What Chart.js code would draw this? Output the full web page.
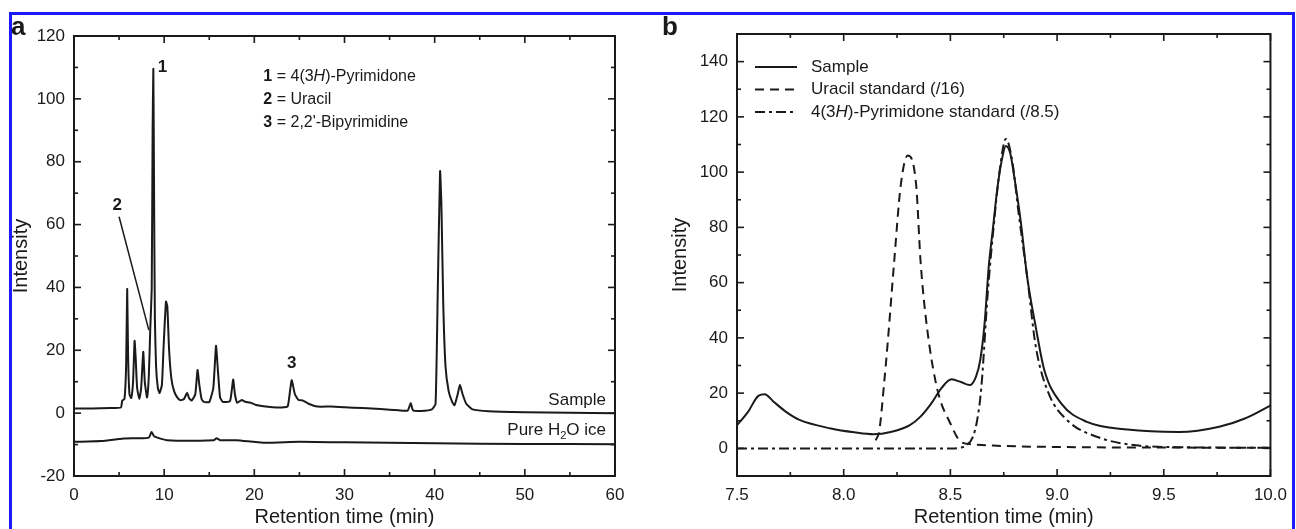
<!DOCTYPE html>
<html>
<head>
<meta charset="utf-8">
<script src="https://cdn.jsdelivr.net/npm/chart.js@4/dist/chart.umd.min.js"></script>
<style>
  html, body { margin: 0; padding: 0; background: #fff; }
  #page { position: relative; width: 1296px; height: 529px; overflow: hidden; }
  #frame { position: absolute; left: 9px; top: 12px; width: 1280px; height: 530px; border: 3px solid #1a1aff; }
  canvas { position: absolute; top: 0; }
  #chartA { left: 0; }
  #chartB { left: 648px; }
</style>
</head>
<body>
<div id="page">
  <div id="frame"></div>
  <canvas id="chartA" width="648" height="529"></canvas>
  <canvas id="chartB" width="648" height="529"></canvas>
</div>
<script>
// ---- panel a: full chromatogram ----
const sampleTimeA = [0, 2, 4, 5.2, 5.35, 5.6, 5.78, 5.9, 6.0, 6.15, 6.35, 6.55, 6.72, 6.85, 7.0, 7.25, 7.45, 7.68, 7.85, 8.1,
  8.3, 8.45, 8.62, 8.72, 8.8, 8.88, 8.97, 9.1, 9.3, 9.5, 9.75, 9.95, 10.2, 10.35, 10.55, 10.8, 11.1, 11.45, 11.8, 12.2,
  12.55, 12.75, 13.05, 13.45, 13.7, 13.9, 14.15, 14.4, 15.0, 15.45, 15.75, 15.95, 16.2, 16.5, 17.3, 17.65, 17.85, 18.1,
  18.6, 19.0, 19.5, 20.2, 21.0, 22.0, 23.0, 23.7, 24.0, 24.15, 24.5, 24.9, 25.4, 26.0, 27.0, 28.5, 30, 32, 34, 36, 37.0,
  37.35, 37.6, 38.5, 39.7, 40.1, 40.35, 40.6, 40.75, 40.95, 41.2, 41.55, 41.95, 42.2, 42.55, 42.8, 43.1, 43.5, 44.2, 46, 50, 55, 60];
const sampleIntA = [1.5, 1.5, 1.6, 1.8, 4, 4.5, 15, 39.5, 18, 6, 4.8, 10, 23, 17, 8, 4.5, 8, 19.5, 10, 5,
  12, 26, 40, 90, 109.5, 70, 30, 15, 8, 6.4, 9, 22, 35.5, 34, 20, 11, 7, 5.0, 4.1, 4.5,
  6.5, 4.8, 4, 6, 13.7, 9, 4.5, 3.6, 3.5, 8, 21.4, 14, 5, 3.6, 3.8, 10.7, 6, 3.3,
  4.2, 3.6, 3.4, 2.6, 2.2, 1.9, 1.8, 2.2, 8, 10.5, 6, 4.2, 4.0, 3.0, 2.1, 2.1, 1.9, 1.6, 1.3, 0.9, 0.8,
  3.2, 0.9, 0.7, 1.2, 3, 40, 77, 66, 35, 15, 7, 3.5, 2.5, 6, 9, 6, 3, 1.2, 0.6, 0.3, 0.1, 0];
const iceTimeA = [0, 3, 5.5, 7, 8.3, 8.6, 8.9, 10.3, 15.5, 15.8, 16.2, 18, 21, 25, 30, 40, 50, 60];
const iceIntA = [-9.1, -8.9, -8.1, -8.0, -7.8, -6.0, -7.4, -8.6, -8.6, -8.0, -8.6, -8.6, -9.4, -9.1, -9.3, -9.6, -9.8, -9.9];
const xTicksA = [0, 10, 20, 30, 40, 50, 60];
const yTicksA = [-20, 0, 20, 40, 60, 80, 100, 120];

// ---- panel b: zoom on 7.5-10 min ----
const sampleTimeB = [7.5, 7.55, 7.6, 7.63, 7.67, 7.73, 7.79, 7.94, 8.05, 8.14, 8.22, 8.31, 8.36, 8.41, 8.46, 8.505, 8.55, 8.59,
  8.62, 8.64, 8.66, 8.68, 8.70, 8.72, 8.74, 8.76, 8.78, 8.80, 8.83, 8.86, 8.90, 8.94, 9.02, 9.14, 9.33, 9.57, 9.76, 9.88, 10.0];
const sampleIntB = [8.4, 13, 19, 19.6, 17, 13.2, 10.4, 7.2, 5.8, 5.1, 5.9, 8.4, 11.5, 16.2, 22, 25, 24, 22.9,
  26, 32, 45, 66, 80, 94, 104, 109.5, 107, 98, 82, 62, 44, 28.4, 16.2, 9.6, 6.8, 5.9, 7.8, 10.8, 15.5];
const uracilTimeB = [8.15, 8.167, 8.19, 8.206, 8.237, 8.267, 8.30, 8.34, 8.36, 8.39, 8.44, 8.50, 8.55, 8.60, 8.70, 9.0, 9.5, 10.0];
const uracilIntB = [2.9, 6.5, 24, 38, 68, 95, 106, 95, 68, 44, 21, 9, 2.3, 1.5, 1.0, 0.5, 0.3, 0.2];
const pyrTimeB = [7.5, 8.0, 8.5, 8.55, 8.575, 8.605, 8.625, 8.645, 8.675, 8.70, 8.73, 8.76, 8.79, 8.82, 8.86, 8.90, 8.96, 9.05,
  9.19, 9.37, 9.6, 10.0];
const pyrIntB = [0, 0, 0, 0.3, 1.1, 4.1, 10, 22, 56, 78, 100, 112, 104, 85, 62, 37, 20, 10, 4.1, 1.1, 0.4, 0.2];
const xTicksB = [7.5, 8.0, 8.5, 9.0, 9.5, 10.0];
const yTicksB = [0, 20, 40, 60, 80, 100, 120, 140];

const FONT = '"Liberation Sans", Arial, Helvetica, sans-serif';
const INK = '#1a1a1a';

function toPoints(xs, ys) {
  return xs.map((x, i) => ({ x, y: ys[i] }));
}

// frame around the plot area with inward major/minor ticks on all four sides
const frameTicks = {
  id: 'frameTicks',
  afterDatasetsDraw(chart, args, opts) {
    const { ctx, chartArea: a, scales: { x, y } } = chart;
    ctx.save();
    ctx.strokeStyle = INK;
    ctx.lineWidth = 2;
    ctx.strokeRect(a.left, a.top, a.right - a.left, a.bottom - a.top);
    ctx.lineWidth = 1.6;
    const seg = (x1, y1, x2, y2) => { ctx.beginPath(); ctx.moveTo(x1, y1); ctx.lineTo(x2, y2); ctx.stroke(); };
    const drawX = (vals, len) => vals.forEach(v => {
      const px = x.getPixelForValue(v);
      seg(px, a.bottom, px, a.bottom - len);
      seg(px, a.top, px, a.top + len);
    });
    const drawY = (vals, len) => vals.forEach(v => {
      const py = y.getPixelForValue(v);
      seg(a.left, py, a.left + len, py);
      seg(a.right, py, a.right - len, py);
    });
    drawX(opts.xMajor, 7); drawX(opts.xMinor, 4);
    drawY(opts.yMajor, 7); drawY(opts.yMinor, 4);
    ctx.restore();
  }
};

// draw text made of runs with their own weight / style / size
function richText(ctx, x, y, runs, size, align) {
  const fontOf = r => `${r.i ? 'italic ' : ''}${r.b ? 'bold ' : ''}${r.size || size}px ${FONT}`;
  let total = 0;
  runs.forEach(r => { ctx.font = fontOf(r); total += ctx.measureText(r.t).width; });
  let cx = align === 'right' ? x - total : x;
  ctx.textAlign = 'left';
  ctx.textBaseline = 'middle';
  runs.forEach(r => {
    ctx.font = fontOf(r);
    const dy = r.sub ? size * 0.35 : 0;
    ctx.fillText(r.t, cx, y + dy);
    cx += ctx.measureText(r.t).width;
  });
}

const notesA = {
  id: 'notesA',
  afterDraw(chart) {
    const { ctx, scales: { x, y } } = chart;
    ctx.save();
    ctx.fillStyle = INK;
    ctx.strokeStyle = INK;
    // panel letter
    ctx.font = `bold 26px ${FONT}`;
    ctx.textBaseline = 'alphabetic';
    ctx.fillText('a', 11, 35);
    // peak numbers
    ctx.font = `bold 17px ${FONT}`;
    ctx.textAlign = 'center';
    ctx.textBaseline = 'middle';
    ctx.fillText('1', x.getPixelForValue(9.8), y.getPixelForValue(110));
    ctx.fillText('2', x.getPixelForValue(4.8), y.getPixelForValue(66));
    ctx.fillText('3', x.getPixelForValue(24.15), y.getPixelForValue(16));
    ctx.lineWidth = 1.5;
    ctx.beginPath();
    ctx.moveTo(x.getPixelForValue(5.0), y.getPixelForValue(62.5));
    ctx.lineTo(x.getPixelForValue(8.3), y.getPixelForValue(26.4));
    ctx.stroke();
    // compound key
    const kx = x.getPixelForValue(21);
    richText(ctx, kx, y.getPixelForValue(107), [{ t: '1', b: true }, { t: ' = 4(3' }, { t: 'H', i: true }, { t: ')-Pyrimidone' }], 16);
    richText(ctx, kx, y.getPixelForValue(99.8), [{ t: '2', b: true }, { t: ' = Uracil' }], 16);
    richText(ctx, kx, y.getPixelForValue(92.6), [{ t: '3', b: true }, { t: " = 2,2'-Bipyrimidine" }], 16);
    // trace names
    const rx = chart.chartArea.right - 9;
    richText(ctx, rx, y.getPixelForValue(4.2), [{ t: 'Sample' }], 17, 'right');
    richText(ctx, rx, y.getPixelForValue(-5.4), [{ t: 'Pure H' }, { t: '2', sub: true, size: 11 }, { t: 'O ice' }], 17, 'right');
    ctx.restore();
  }
};

const notesB = {
  id: 'notesB',
  afterDraw(chart) {
    const { ctx, chartArea: a } = chart;
    ctx.save();
    ctx.fillStyle = INK;
    ctx.strokeStyle = INK;
    ctx.font = `bold 26px ${FONT}`;
    ctx.textBaseline = 'alphabetic';
    ctx.fillText('b', 14, 35);
    // legend inside the plot
    const rows = [
      [{ t: 'Sample' }],
      [{ t: 'Uracil standard (/16)' }],
      [{ t: '4(3' }, { t: 'H', i: true }, { t: ')-Pyrimidone standard (/8.5)' }]
    ];
    chart.data.datasets.forEach((ds, i) => {
      const ly = a.top + 33 + i * 22.5;
      ctx.lineWidth = 1.8;
      ctx.setLineDash(ds.borderDash || []);
      ctx.beginPath();
      ctx.moveTo(a.left + 18, ly);
      ctx.lineTo(a.left + 60, ly);
      ctx.stroke();
      ctx.setLineDash([]);
      richText(ctx, a.left + 74, ly, rows[i], 17);
    });
    ctx.restore();
  }
};

function axisOptions(min, max, ticksArr, fmt, fit, titleText, titlePad) {
  return {
    type: 'linear',
    min, max,
    afterBuildTicks: s => { s.ticks = ticksArr.map(v => ({ value: v })); },
    afterFit: fit,
    grid: { display: false, drawTicks: false },
    border: { display: false },
    ticks: { color: INK, font: { family: FONT, size: 17 }, padding: 9, maxRotation: 0, autoSkip: false, callback: fmt },
    title: { display: true, text: titleText, color: INK, font: { family: FONT, size: 20 }, padding: titlePad }
  };
}

const lineStyle = { pointRadius: 0, borderColor: INK, borderWidth: 2, fill: false };

new Chart(document.getElementById('chartA'), {
  type: 'line',
  data: {
    datasets: [
      { label: 'Sample', data: toPoints(sampleTimeA, sampleIntA), ...lineStyle, tension: 0.15 },
      { label: 'Pure H2O ice', data: toPoints(iceTimeA, iceIntA), ...lineStyle, tension: 0.2 }
    ]
  },
  options: {
    responsive: false,
    animation: false,
    layout: { padding: { top: 36, right: 33, left: 0, bottom: 0 } },
    plugins: { legend: { display: false }, tooltip: { enabled: false },
      frameTicks: { xMajor: xTicksA, xMinor: [5, 15, 25, 35, 45, 55], yMajor: yTicksA, yMinor: [-10, 10, 30, 50, 70, 90, 110] } },
    scales: {
      x: axisOptions(0, 60, xTicksA, v => String(v), s => { s.height = 53; }, 'Retention time (min)', { top: 0, bottom: 0 }),
      y: axisOptions(-20, 120, yTicksA, v => String(v), s => { s.width = 74; }, 'Intensity', { top: 9, bottom: 0 })
    }
  },
  plugins: [frameTicks, notesA]
});

new Chart(document.getElementById('chartB'), {
  type: 'line',
  data: {
    datasets: [
      { label: 'Sample', data: toPoints(sampleTimeB, sampleIntB), ...lineStyle, cubicInterpolationMode: 'monotone' },
      { label: 'Uracil standard (/16)', data: toPoints(uracilTimeB, uracilIntB), ...lineStyle, borderDash: [9, 6], cubicInterpolationMode: 'monotone' },
      { label: '4(3H)-Pyrimidone standard (/8.5)', data: toPoints(pyrTimeB, pyrIntB), ...lineStyle, borderDash: [10, 4, 3, 4], cubicInterpolationMode: 'monotone' }
    ]
  },
  options: {
    responsive: false,
    animation: false,
    layout: { padding: { top: 34, right: 17, left: 0, bottom: 0 } },
    plugins: { legend: { display: false }, tooltip: { enabled: false },
      frameTicks: { xMajor: xTicksB, xMinor: [7.75, 8.25, 8.75, 9.25, 9.75], yMajor: yTicksB, yMinor: [10, 30, 50, 70, 90, 110, 130] } },
    scales: {
      x: axisOptions(7.5, 10.0, xTicksB, v => Number(v).toFixed(1), s => { s.height = 53; }, 'Retention time (min)', { top: 0, bottom: 0 }),
      y: axisOptions(-10, 150, yTicksB, v => String(v), s => { s.width = 89; }, 'Intensity', { top: 20, bottom: 0 })
    }
  },
  plugins: [frameTicks, notesB]
});
</script>
</body>
</html>
